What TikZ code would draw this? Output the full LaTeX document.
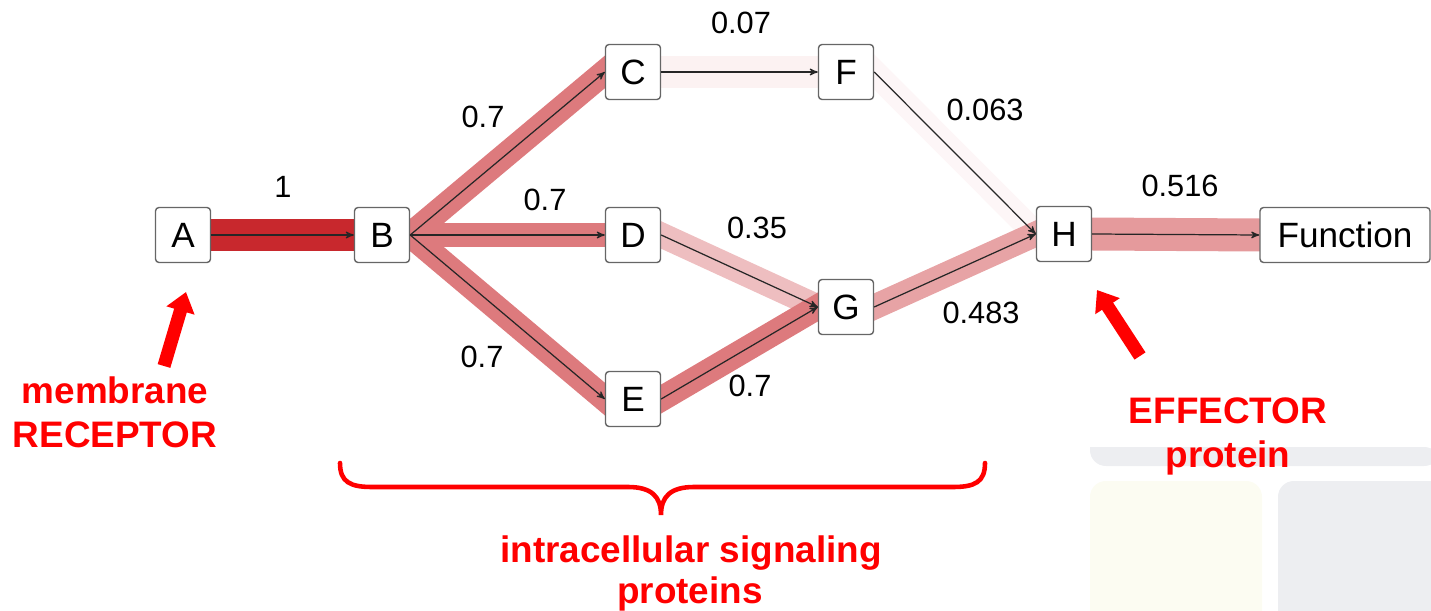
\documentclass[tikz,border=0pt]{standalone}
\usepackage{xcolor}
\usepackage{fontspec}
\setmainfont{Liberation Sans}
\usepackage{tikz}
\usetikzlibrary{arrows,arrows.meta,backgrounds}

\definecolor{bandred}{RGB}{200,40,45}
\definecolor{annred}{RGB}{255,0,0}
\definecolor{slidegray}{RGB}{237,238,241}
\definecolor{slidecream}{RGB}{252,252,242}
\newcommand{\protfont}{\fontsize{20}{24}\selectfont}
\newcommand{\labfont}{\fontsize{17.5}{21}\selectfont}
\newcommand{\notefont}{\fontsize{21}{25}\selectfont\bfseries}

\begin{document}
\begin{tikzpicture}[x=0.02cm,y=-0.02cm,>=stealth',
        flow/.style={->,draw=black!85,line width=0.7pt},
        band/.style={-,line width=0.5cm,draw=bandred!#1!white,
            shorten <=-0.3cm,shorten >=-0.3cm},
        wide/.style={line width=0.66cm},
        wlabel/.style={font=\labfont,inner sep=0pt},
        note/.style={font=\notefont,text=annred,inner sep=0pt,anchor=base},
        pointer/.style={-{Triangle[length=11pt,width=16pt]},line width=7.5pt,draw=annred}]
    \tikzstyle{protein}=[draw=black!60,fill=white,rounded corners=2pt,
        minimum width=1.1cm,minimum height=1.1cm,font=\protfont,line width=0.8pt]

    \useasboundingbox (0,0) rectangle (1431,611);

    \node[protein] (A) at (183,235) {A};
    \node[protein] (B) at (382,235) {B};
    \node[protein] (C) at (633,72) {C};
    \node[protein] (D) at (633,235) {D};
    \node[protein] (E) at (633,399) {E};
    \node[protein] (F) at (846,72) {F};
    \node[protein] (G) at (846,307) {G};
    \node[protein] (H) at (1064,234) {H};
    \node[protein,minimum width=3.4cm] (Fn) at (1345,235) {Function};

    \begin{pgfonlayer}{background}
        % faint slide panels bottom right
        \fill[slidegray] (1440,447) -- (1090,447) [rounded corners=9pt] -- (1090,466) -- (1440,466) -- cycle;
        \fill[slidecream,rounded corners=9pt] (1090,481) rectangle (1262,640);
        \fill[slidegray,rounded corners=9pt] (1278,481) rectangle (1460,640);

        % flux bands
        \path (A.east) edge[band=100,wide] (B.west);
        \path (B.east) edge[band=62] (D.west);
        \path (B.east) edge[band=62] (C.west);
        \path (B.east) edge[band=62] (E.west);
        \path (C.east) edge[band=6,wide] (F.west);
        \path (F.east) edge[band=4] (H.west);
        \path (D.east) edge[band=30] (G.west);
        \path (E.east) edge[band=62] (G.west);
        \path (G.east) edge[band=43] (H.west);
        \path (H.east) edge[band=47,wide] (Fn.west);
    \end{pgfonlayer}

    \path (A.east) edge[flow] (B.west);
    \path (B.east) edge[flow] (C.west);
    \path (B.east) edge[flow] (D.west);
    \path (B.east) edge[flow] (E.west);
    \path (C.east) edge[flow] (F.west);
    \path (F.east) edge[flow] (H.west);
    \path (D.east) edge[flow] (G.west);
    \path (E.east) edge[flow] (G.west);
    \path (G.east) edge[flow] (H.west);
    \path (H.east) edge[flow] (Fn.west);

    \node[wlabel] (wAB) at (283,187) {1};
    \node[wlabel] (wBC) at (483,117) {0.7};
    \node[wlabel] (wBD) at (545,200) {0.7};
    \node[wlabel] (wBE) at (482,357) {0.7};
    \node[wlabel] (wCF) at (741,23) {0.07};
    \node[wlabel] (wFH) at (985,110) {0.063};
    \node[wlabel] (wDG) at (757,228) {0.35};
    \node[wlabel] (wEG) at (750,386) {0.7};
    \node[wlabel] (wGH) at (981,313) {0.483};
    \node[wlabel] (wHF) at (1180,186) {0.516};

    % annotations
    \coordinate (recTail) at (164,366);
    \coordinate (recTip) at (186,292);
    \draw[pointer] (recTail) -- (recTip);
    \coordinate (effTail) at (1140,356);
    \coordinate (effTip) at (1097,290);
    \draw[pointer] (effTail) -- (effTip);

    \node[note] (rec1) at (115,403) {membrane};
    \node[note] (rec2) at (115,447) {RECEPTOR};
    \node[note] (eff1) at (1228,423) {EFFECTOR};
    \node[note] (eff2) at (1228,467) {protein};

    \draw[annred,line width=2.6pt,line cap=round] (340,463)
        .. controls (340,482) and (350,487) .. (372,487) -- (628,487)
        .. controls (652,487) and (661,497) .. (661,515)
        .. controls (661,497) and (670,487) .. (694,487) -- (953,487)
        .. controls (975,487) and (985,482) .. (985,463);
    \node[note] (sig1) at (691,562) {intracellular signaling};
    \node[note] (sig2) at (690,603) {proteins};
\end{tikzpicture}
\end{document}
